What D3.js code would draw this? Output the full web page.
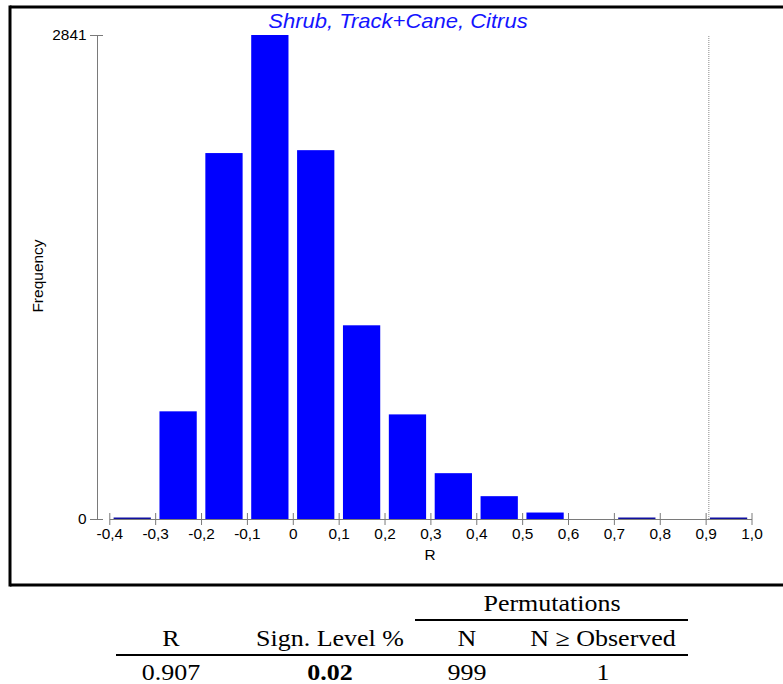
<!DOCTYPE html>
<html>
<head>
<meta charset="utf-8">
<script src="https://cdn.jsdelivr.net/npm/d3@7"></script>
<style>
  body { margin: 0; background: #fff; overflow: hidden; }
  svg { display: block; }
</style>
</head>
<body>
<svg width="783" height="684"></svg>
<script>
// histogram of permuted R values
const binStarts = [-0.4, -0.3, -0.2, -0.1, 0, 0.1, 0.2, 0.3, 0.4, 0.5, 0.6, 0.7, 0.8, 0.9];
const freq = [3, 632, 2148, 2841, 2165, 1137, 614, 269, 134, 38, 0, 2, 0, 1];
const xTicks = [-0.4, -0.3, -0.2, -0.1, 0, 0.1, 0.2, 0.3, 0.4, 0.5, 0.6, 0.7, 0.8, 0.9, 1.0];
const xTickLabels = ["-0,4", "-0,3", "-0,2", "-0,1", "0", "0,1", "0,2", "0,3", "0,4", "0,5", "0,6", "0,7", "0,8", "0,9", "1,0"];
const yTicks = [0, 2841];
const observedR = 0.907;
const binWidth = 0.1;
const title = "Shrub, Track+Cane, Citrus";

// summary table
const tableGroup = "Permutations";
const tableHeads = ["R", "Sign. Level %", "N", "N \u2265 Observed"];
const tableValues = ["0.907", "0.02", "999", "1"];

const svg = d3.select("svg");
const grey = "#7a7a7a";
const sans = "Arial, 'Liberation Sans', sans-serif";
const serif = "'Times New Roman', 'Liberation Serif', serif";

// frame (open on the right)
svg.append("line").attr("x1", 10).attr("x2", 10).attr("y1", 5.5).attr("y2", 586.5)
    .attr("stroke", "#000").attr("stroke-width", 3);
svg.append("line").attr("x1", 10).attr("x2", 783).attr("y1", 7).attr("y2", 7)
    .attr("stroke", "#000").attr("stroke-width", 3);
svg.append("line").attr("x1", 10).attr("x2", 783).attr("y1", 585).attr("y2", 585)
    .attr("stroke", "#000").attr("stroke-width", 3);

const x = d3.scaleLinear().domain([-0.4, 1.0]).range([109.3, 751.5]);
const y = d3.scaleLinear().domain([0, 2841]).range([519, 35]);

// bars
svg.append("g")
    .selectAll("rect")
    .data(binStarts)
    .join("rect")
    .attr("x", (d) => x(d) + 4.3)
    .attr("width", (d) => x(d + binWidth) - x(d) - 8.6)
    .attr("y", (d, i) => freq[i] > 0 ? Math.min(y(freq[i]), y(0) - 1.5) : y(0))
    .attr("height", (d, i) => freq[i] > 0 ? Math.max(y(0) - y(freq[i]), 1.5) : 0)
    .attr("fill", (d, i) => freq[i] < 20 ? "#1010a0" : "#0000ff");

// observed value
svg.append("line")
    .attr("x1", x(observedR))
    .attr("x2", x(observedR))
    .attr("y1", y(2841) + 1)
    .attr("y2", y(0))
    .attr("stroke", "#888")
    .attr("stroke-width", 1)
    .attr("stroke-dasharray", "1,1");

// x axis
const xAxis = svg.append("g")
    .attr("transform", `translate(0,${y(0)})`)
    .call(d3.axisBottom(x)
        .tickValues(xTicks)
        .tickFormat((d, i) => xTickLabels[i])
        .tickSize(6)
        .tickSizeOuter(0));
xAxis.select(".domain").attr("stroke", grey);
xAxis.selectAll(".tick line").attr("y1", -6).attr("y2", 6).attr("stroke", grey);
xAxis.selectAll(".tick text")
    .attr("y", 10)
    .attr("transform", "scale(1.1,1)")
    .attr("font-family", sans)
    .attr("font-size", 14)
    .attr("fill", "#000");

// y axis
const yAxis = svg.append("g")
    .attr("transform", "translate(97,0)")
    .call(d3.axisLeft(y)
        .tickValues(yTicks)
        .tickFormat(d3.format("d"))
        .tickSize(6)
        .tickSizeOuter(0));
yAxis.select(".domain").attr("stroke", grey);
yAxis.selectAll(".tick line").attr("x1", -7).attr("x2", 6).attr("stroke", grey);
yAxis.selectAll(".tick text")
    .attr("x", -9.5)
    .attr("transform", "scale(1.1,1)")
    .attr("font-family", sans)
    .attr("font-size", 14)
    .attr("fill", "#000");

// labels
svg.append("text")
    .attr("transform", "translate(398,28) scale(1.1,1)")
    .attr("text-anchor", "middle")
    .attr("font-family", sans)
    .attr("font-style", "italic")
    .attr("font-size", 20)
    .attr("fill", "#1414ff")
    .text(title);

svg.append("text")
    .attr("transform", "translate(430,560) scale(1.1,1)")
    .attr("text-anchor", "middle")
    .attr("font-family", sans)
    .attr("font-size", 14)
    .text("R");

svg.append("text")
    .attr("transform", "translate(43,276) rotate(-90)")
    .attr("text-anchor", "middle")
    .attr("font-family", sans)
    .attr("font-size", 15.5)
    .text("Frequency");

// table
const colX = [171, 330, 467, 603];
const stretch = "scale(1.13,1)";

svg.append("text")
    .attr("transform", `translate(552,611) ${stretch}`)
    .attr("text-anchor", "middle")
    .attr("font-family", serif)
    .attr("font-size", 23)
    .text(tableGroup);

svg.append("line")
    .attr("x1", 415).attr("x2", 688)
    .attr("y1", 620).attr("y2", 620)
    .attr("stroke", "#000").attr("stroke-width", 2);

svg.append("g")
    .selectAll("text")
    .data(tableHeads)
    .join("text")
    .attr("transform", (d, i) => `translate(${colX[i]},646) ${stretch}`)
    .attr("text-anchor", "middle")
    .attr("font-family", serif)
    .attr("font-size", 23)
    .text((d) => d);

svg.append("line")
    .attr("x1", 116).attr("x2", 688)
    .attr("y1", 655).attr("y2", 655)
    .attr("stroke", "#000").attr("stroke-width", 2);

svg.append("g")
    .selectAll("text")
    .data(tableValues)
    .join("text")
    .attr("transform", (d, i) => `translate(${colX[i]},680) ${stretch}`)
    .attr("text-anchor", "middle")
    .attr("font-family", serif)
    .attr("font-size", 23)
    .attr("font-weight", (d, i) => i === 1 ? "bold" : "normal")
    .text((d) => d);
</script>
</body>
</html>
